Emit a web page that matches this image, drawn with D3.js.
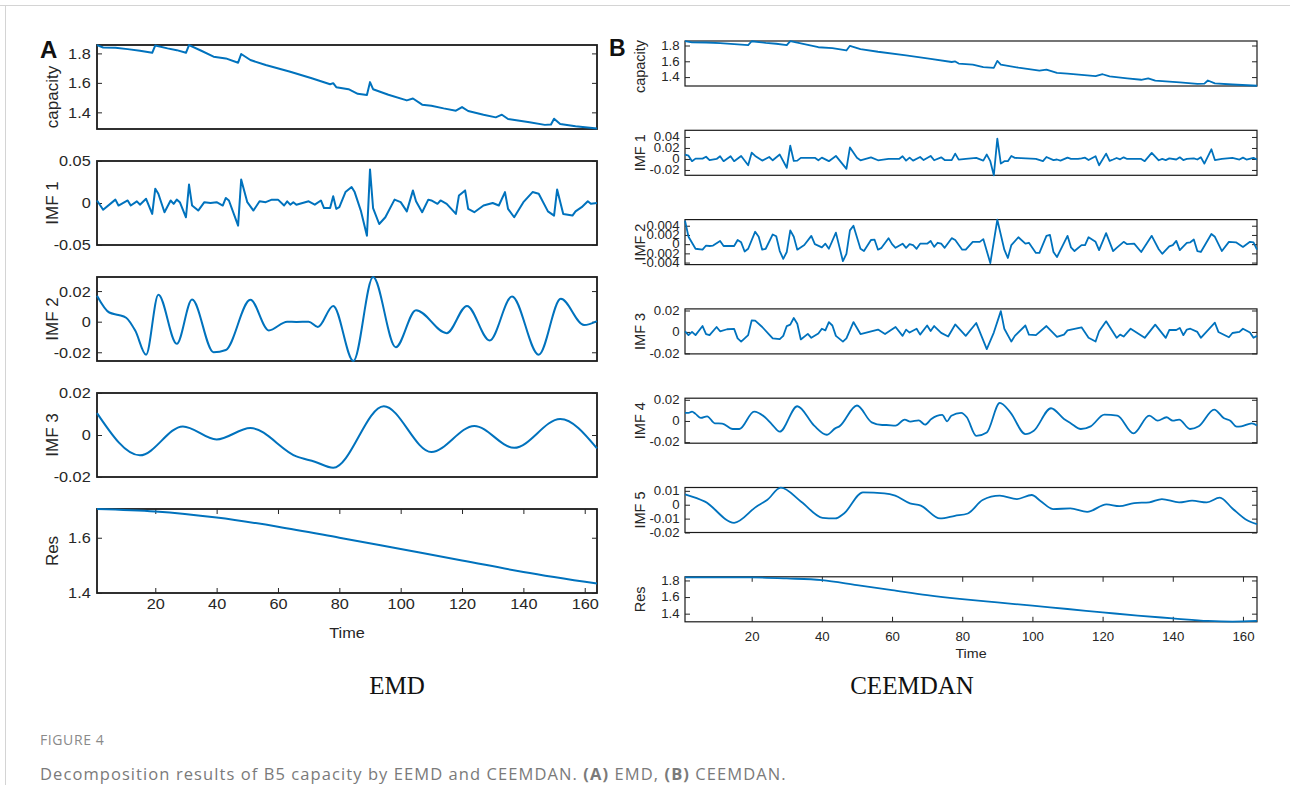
<!DOCTYPE html>
<html>
<head>
<meta charset="utf-8">
<script src="https://cdn.jsdelivr.net/npm/d3@7"></script>
<style>
body { margin: 0; background: #fff; }
</style>
</head>
<body>
<svg width="1290" height="785"></svg>
<script>
// time axis
const xLim = [1, 164]
const timeTicks = [20, 40, 60, 80, 100, 120, 140, 160]

// B5 capacity (same series in both panels)
const capT = [1,3,7,11,15,19,20,24,27,30,31,35,39,43,47,48,51,56,64,71,77,78,79,83,86,89,90,91,96,102,104,107,110,114,118,120,122,127,131,133,135,142,147,149,150,152,157,164]
const capV = [1.856,1.840,1.838,1.829,1.818,1.804,1.854,1.834,1.822,1.804,1.856,1.818,1.778,1.766,1.737,1.796,1.755,1.721,1.676,1.631,1.591,1.598,1.571,1.557,1.526,1.517,1.605,1.557,1.519,1.481,1.494,1.452,1.445,1.427,1.411,1.436,1.409,1.384,1.366,1.384,1.355,1.333,1.315,1.317,1.357,1.321,1.306,1.290]
const capTicks = [1.4, 1.6, 1.8]

// EMD
const emdImf1T = [1,3,7,8,11,12,14,15,17,19,20,21,23,25,26,27,28,30,31,32,34,36,38,40,42,43,44,47,48,50,52,54,56,58,60,62,63,64,65,66,70,72,74,75,77,78,79,80,82,84,85,87,89,90,91,93,95,98,100,102,104,105,107,109,110,112,113,115,118,119,121,122,124,127,130,132,134,135,137,140,143,145,148,150,151,153,156,157,159,161,162,164]
const emdImf1V = [0.003,-0.008,0.004,-0.003,0.003,-0.003,0.002,-0.002,0.005,-0.013,0.017,0.011,-0.011,0.003,-0.001,0.004,0.001,-0.017,0.022,-0.003,-0.009,0.001,0,0.001,-0.003,0.006,0.003,-0.027,0.028,0.001,-0.009,0.002,0.001,0.004,0.004,-0.003,0.002,-0.002,0.001,-0.002,0.002,-0.002,0.003,-0.006,-0.006,0.008,-0.007,-0.005,0.013,0.019,0.013,-0.009,-0.039,0.040,-0.006,-0.025,-0.017,0.004,0.001,-0.010,0.015,0.002,-0.011,0.004,0.003,-0.001,0.003,-0.001,-0.013,0.009,0.015,-0.007,-0.011,-0.003,0,-0.003,0.013,-0.007,-0.017,0.001,0.013,0.011,-0.010,-0.015,0.016,-0.013,-0.015,-0.010,-0.005,0.002,-0.001,0]
const emdImf1Ticks = [-0.05, 0, 0.05]

const emdImf2T = [1,5,8,10.5,13.5,17,21,27,32,39,43,51,57,63,66,70,73,78,84.6,91,98.4,105,115,121.6,129,136.3,145,152.2,159.8,164]
const emdImf2V = [0.017,0.006,0.0044,0.0026,-0.006,-0.0216,0.0176,-0.0145,0.0145,-0.020,-0.0185,0.0143,-0.0057,0,-0.0002,0,-0.0035,0.0103,-0.0257,0.0292,-0.0167,0.0075,-0.0075,0.0103,-0.0123,0.0165,-0.0216,0.015,-0.0022,0.0004]
const emdImf2Ticks = [-0.02, 0, 0.02]

const emdImf3T = [1,15,29,40,51,66,72,78,94.5,110,124,137,152,164]
const emdImf3V = [0.0104,-0.0097,0.0041,-0.0021,0.0033,-0.0102,-0.0127,-0.0156,0.0137,-0.0081,0.0043,-0.0061,0.0076,-0.0064]
const emdImf3Ticks = [-0.02, 0, 0.02]

const emdResT = [1,20,40,60,80,100,120,140,164]
const emdResV = [1.704,1.695,1.673,1.640,1.600,1.559,1.518,1.476,1.434]
const emdResTicks = [1.4, 1.6]

// CEEMDAN
const ceImf1T = [1,2,3,4,6,7,8,10,11,12,14,15,17,19,20,21,23,25,26,28,30,31,32,33,34,38,39,40,42,44,47,48,50,51,54,56,59,62,63,64,65,66,68,69,71,72,74,75,77,78,79,81,84,86,87,88,89,90,91,92,93,94,95,101,103,104,106,107,108,110,111,113,114,115,116,118,119,121,122,123,124,125,126,127,131,132,134,136,137,138,139,141,142,143,144,146,147,148,149,151,152,154,157,159,160,161,163,164]
const ceImf1V = [0.008,0.006,-0.004,0.0006,0.0006,0.004,-0.002,0,0.005,-0.004,0.005,-0.004,0.0055,-0.0115,0.0115,0.0055,-0.003,0.0036,-0.0024,0.008,-0.016,0.024,-0.0036,-0.003,0.002,0.002,-0.0024,0.0024,-0.004,0.0055,-0.018,0.021,0.002,-0.0024,0.003,-0.0024,0,0,0.005,-0.003,0.0024,-0.003,0.0036,-0.002,0.0055,-0.0024,0.003,-0.002,-0.002,0.0097,-0.0012,0,0.002,-0.003,0.008,-0.004,-0.0297,0.037,-0.0085,-0.004,-0.004,0.0055,0.002,0,-0.004,0.0036,-0.002,-0.001,-0.003,0.0024,0,0,0.001,0.0024,-0.002,0.005,-0.0115,0.0097,-0.0036,-0.001,0.0018,-0.0006,0.003,0,0,-0.004,0.011,-0.0024,0,-0.002,0.001,-0.001,0.003,-0.002,0,0.001,-0.001,0.003,-0.0085,0.0176,-0.002,0,0.002,-0.001,0.0024,-0.001,0.002,-0.001]
const ceImf1Ticks = [-0.02, 0, 0.02, 0.04]

const ceImf2T = [1,2,4,6,7,8,9,11,12,15,16,17,18,19,21,22,23,24,26,27,28,29,30,31,32,33,35,37,38,40,41,42,44,46,47,48,49,51,52,54,55,56,57,59,60,61,63,64,65,66,67,68,70,71,72,73,74,75,77,78,80,81,83,85,86,88,90,92,93,94,96,98,99,101,102,104,105,106,107,110,111,112,114,115,116,118,119,121,123,124,126,127,129,131,134,136,137,139,140,141,142,144,145,146,147,148,151,152,154,156,158,160,162,163,164]
const ceImf2V = [0.0051,0.0016,-0.001,-0.0012,-0.0003,-0.0004,-0.0003,0.0007,-0.0004,-0.0004,0.0009,0.0004,-0.0016,-0.001,0.0027,0.0016,-0.0012,-0.001,0.0021,0.0017,-0.0015,-0.0032,-0.0017,0.003,0.0016,-0.0012,-0.0002,0.0018,0,-0.0007,0.0001,-0.001,0.0025,-0.0037,-0.0021,0.003,0.004,-0.001,-0.0015,0.0009,0.001,-0.0012,-0.0008,0.0013,0,-0.0008,0.0001,-0.0008,0,-0.0002,-0.001,0.0001,0.0001,0.0007,-0.0006,0.0003,0.0001,-0.0008,0.0013,0.0009,-0.0012,-0.0012,0.0005,0.0005,0.0011,-0.0041,0.0053,-0.0012,-0.003,-0.0002,0.0015,0.0001,0.0003,-0.0019,-0.0019,0.0018,0.002,-0.0017,-0.0028,0.0018,-0.0007,-0.0015,-0.0002,-0.0002,0.0015,0.0005,-0.0013,0.0024,-0.0015,-0.0008,0.0005,0,0.0001,-0.0017,0.0018,-0.0011,-0.0021,-0.0005,-0.0002,0.0007,-0.0013,0.0003,0.0004,0.001,-0.0015,-0.0017,0.0022,0.0016,-0.0015,0.0005,0.0004,-0.0006,0.0005,0.0004,-0.0012]
const ceImf2Ticks = [-0.004, -0.002, 0, 0.002, 0.004]

const ceImf3T = [1,2,3,4,6,7,8,10,11,13,15,16,17,19,20,21,23,25,26,28,29,30,31,32,33,34,36,37,39,40,41,42,43,44,46,47,49,51,56,58,61,63,64,65,67,68,70,71,72,74,76,78,81,84,87,89,91,92,94,95,98,99,101,104,107,109,110,111,114,116,118,119,121,124,125,126,128,132,135,138,139,141,142,143,144,145,147,148,152,153,156,157,159,160,162,163,164]
const ceImf3V = [0.0006,-0.003,0,-0.003,0.0055,-0.002,-0.003,0.0046,0.0006,0.0025,0.0028,-0.006,-0.009,-0.003,0.0108,0.0105,0.0046,-0.0025,-0.006,-0.0068,-0.0037,0.0055,0.0068,0.013,0.0077,-0.007,-0.0018,-0.0055,-0.0015,0.003,0.0015,0.0092,0.006,-0.0037,-0.009,-0.006,0.0092,-0.002,0.0022,-0.002,0.0046,-0.0037,0.0022,-0.0006,0.003,-0.0025,0.006,0.0009,0.0055,-0.0009,-0.0043,0.007,-0.0037,0.0083,-0.016,-0.0006,0.0194,0.003,-0.009,-0.0037,0.006,-0.0025,-0.003,0.0055,-0.0046,-0.0025,0.0015,0.0022,0.0043,-0.0055,-0.009,0.0006,0.0099,-0.0055,-0.0025,-0.0043,0.003,-0.0055,0.0068,-0.0055,0.0018,0.0018,0.0037,-0.003,0.0022,0.003,0,-0.0055,0.0086,0,-0.005,-0.001,0,0.003,-0.0006,-0.0055,-0.0037]
const ceImf3Ticks = [-0.02, 0, 0.02]

const ceImf4T = [1,2,3,4,5.5,7.3,9.5,11.6,14.6,16.5,20.7,23.8,25.7,28,33,37.8,41.4,43.8,45,50,54.2,57.2,58.4,61,63.6,65.2,67.6,69.4,71.2,74.3,75.7,76.9,79.7,81.3,84,87,90.7,93.7,98,100.4,105.3,109,110.8,113.8,116.6,120.5,124.2,128.8,133.3,135.7,138.2,140,141.8,144.9,147.4,151.8,154.6,156.4,158.2,159.5,162.5,164]
const ceImf4V = [0.0076,0.0076,0.0089,0.0067,0.0029,0.0044,-0.0022,-0.0025,-0.0076,-0.0076,0.0089,0.0035,-0.0029,-0.0101,0.0139,-0.0044,-0.013,-0.007,-0.0051,0.0146,-0.0013,-0.0038,-0.0038,-0.0044,0.0013,-0.0006,0.0006,-0.0035,0.0019,0.0057,-0.0003,0.005,0.0076,0.0035,-0.014,-0.0108,0.0171,0.0082,-0.0124,-0.0092,0.012,0.0019,-0.0019,-0.0076,-0.0051,0.006,0.0051,-0.0117,0.0051,0.0003,0.0035,0.0003,0.0013,-0.0076,-0.005,0.0108,0.0025,0.0003,-0.0054,-0.0051,-0.0022,-0.0044]
const ceImf4Ticks = [-0.02, 0, 0.02]

const ceImf5T = [1,6.7,15,21.3,24.4,28.3,34.1,40.2,43.8,46.3,51.7,57.8,60.9,65.1,68.2,73.7,77.9,81.6,85.8,90.7,95.6,99.8,102.3,105.9,110.8,115.6,121.1,124.8,129,133.3,136.9,141.8,145.5,149.7,153.4,157,160.7,164]
const ceImf5V = [0.0075,0.0022,-0.013,-0.0014,0.0034,0.0123,0.0022,-0.0094,-0.0099,-0.0063,0.0089,0.0082,0.0065,0.001,-0.0007,-0.0099,-0.008,-0.0063,0.0034,0.0065,0.0041,0.007,0.0027,-0.0031,-0.0027,-0.0051,0.0002,-0.001,0.0012,0.0017,0.0041,0.0017,0.0029,0.0017,0.0051,-0.0027,-0.0104,-0.014]
const ceImf5Ticks = [-0.02, -0.01, 0, 0.01]

const ceResT = [1,12,20,30,40,50,60,70,80,90,100,110,120,130,140,150,157,164]
const ceResV = [1.836,1.837,1.836,1.824,1.804,1.744,1.684,1.624,1.576,1.536,1.496,1.456,1.416,1.376,1.344,1.312,1.304,1.312]
const ceResTicks = [1.4, 1.6, 1.8]

const blue = '#0072BD'
const ink = '#262626'
const svg = d3.select('svg')

const emdPanels = [
    { name: 'capacity', t: capT, v: capV, lim: [1.287, 1.857], ticks: capTicks, curve: d3.curveLinear, labelDy: 10 },
    { name: 'IMF 1', t: emdImf1T, v: emdImf1V, lim: [-0.05, 0.05], ticks: emdImf1Ticks, curve: d3.curveLinear },
    { name: 'IMF 2', t: emdImf2T, v: emdImf2V, lim: [-0.0257, 0.0292], ticks: emdImf2Ticks, curve: d3.curveMonotoneX },
    { name: 'IMF 3', t: emdImf3T, v: emdImf3V, lim: [-0.02, 0.02], ticks: emdImf3Ticks, curve: d3.curveMonotoneX },
    { name: 'Res', t: emdResT, v: emdResV, lim: [1.4, 1.704], ticks: emdResTicks, curve: d3.curveMonotoneX }
]
const cePanels = [
    { name: 'capacity', t: capT, v: capV, lim: [1.287, 1.857], ticks: capTicks, curve: d3.curveLinear, labelDy: 3 },
    { name: 'IMF 1', t: ceImf1T, v: ceImf1V, lim: [-0.0297, 0.0521], ticks: ceImf1Ticks, curve: d3.curveLinear },
    { name: 'IMF 2', t: ceImf2T, v: ceImf2V, lim: [-0.00444, 0.00533], ticks: ceImf2Ticks, curve: d3.curveLinear },
    { name: 'IMF 3', t: ceImf3T, v: ceImf3V, lim: [-0.0205, 0.0215], ticks: ceImf3Ticks, curve: d3.curveLinear },
    { name: 'IMF 4', t: ceImf4T, v: ceImf4V, lim: [-0.021, 0.0215], ticks: ceImf4Ticks, curve: d3.curveMonotoneX },
    { name: 'IMF 5', t: ceImf5T, v: ceImf5V, lim: [-0.02, 0.0124], ticks: ceImf5Ticks, curve: d3.curveMonotoneX },
    { name: 'Res', t: ceResT, v: ceResV, lim: [1.302, 1.844], ticks: ceResTicks, curve: d3.curveMonotoneX }
]

const leftGeo = { x0: 97, x1: 597, top: 45, step: 116, h: 84, tick: 5, lw: 2, boxW: 1.8, font: 15.5, labFont: 17, labX: 52, pad: 6, xpad: 5, timeY: 637.5, timeFont: 15.5, sx: 1.05 }
const rightGeo = { x0: 685, x1: 1257, top: 41, step: 89.3, h: 45, tick: 5, lw: 1.8, boxW: 1.2, font: 12, labFont: 14.5, labX: 640, pad: 5, xpad: 10.5, timeY: 658, timeFont: 13, sx: 1.1 }

function styleAxis(sel, geo) {
    sel.select('.domain').remove()
    sel.attr('font-family', null).attr('font-size', null)
    sel.selectAll('line').attr('stroke', ink).attr('stroke-width', 1)
    sel.selectAll('text')
        .attr('fill', ink)
        .attr('font-family', '"Liberation Sans", Arial, sans-serif')
        .attr('font-size', geo.font)
        .attr('transform', `scale(${geo.sx},1)`)
}

function drawPanel(cfg, i, geo, last) {
    const y0 = geo.top + i * geo.step
    const y1 = y0 + geo.h
    const x = d3.scaleLinear().domain(xLim).range([geo.x0, geo.x1])
    const y = d3.scaleLinear().domain(cfg.lim).range([y1, y0])
    const g = svg.append('g')

    g.append('rect')
        .attr('x', geo.x0).attr('y', y0)
        .attr('width', geo.x1 - geo.x0).attr('height', geo.h)
        .attr('fill', 'none').attr('stroke', '#1a1a1a').attr('stroke-width', geo.boxW)

    g.append('g').attr('transform', `translate(${geo.x0},0)`)
        .call(d3.axisLeft(y).tickValues(cfg.ticks).tickFormat(d => String(d)).tickSize(-geo.tick).tickPadding(geo.pad))
        .call(s => styleAxis(s, geo))
    g.append('g').attr('transform', `translate(${geo.x1},0)`)
        .call(d3.axisRight(y).tickValues(cfg.ticks).tickFormat('').tickSize(-geo.tick))
        .call(s => styleAxis(s, geo))

    if (last) {
        g.append('g').attr('transform', `translate(0,${y1})`)
            .call(d3.axisBottom(x).tickValues(timeTicks).tickSize(-geo.tick).tickPadding(geo.xpad))
            .call(s => styleAxis(s, geo))
        g.append('g').attr('transform', `translate(0,${y0})`)
            .call(d3.axisTop(x).tickValues(timeTicks).tickFormat('').tickSize(-geo.tick))
            .call(s => styleAxis(s, geo))
        g.append('text')
            .attr('transform', `translate(${(geo.x0 + geo.x1) / 2},${geo.timeY}) scale(${geo.sx},1)`)
            .attr('text-anchor', 'middle')
            .attr('font-family', '"Liberation Sans", Arial, sans-serif')
            .attr('font-size', geo.timeFont)
            .attr('fill', ink)
            .text('Time')
    }

    const line = d3.line()
        .x((d, j) => x(cfg.t[j]))
        .y(d => y(d))
        .curve(cfg.curve)
    g.append('path')
        .datum(cfg.v)
        .attr('d', line)
        .attr('fill', 'none')
        .attr('stroke', blue)
        .attr('stroke-width', geo.lw)
        .attr('stroke-linejoin', 'round')

    g.append('text')
        .attr('transform', `translate(${geo.labX},${(y0 + y1) / 2 + (cfg.labelDy || 0)}) rotate(-90)`)
        .attr('text-anchor', 'middle')
        .attr('dy', '0.35em')
        .attr('font-family', '"Liberation Sans", Arial, sans-serif')
        .attr('font-size', geo.labFont)
        .attr('fill', ink)
        .text(cfg.name)
}

emdPanels.forEach((p, i) => drawPanel(p, i, leftGeo, i === emdPanels.length - 1))
cePanels.forEach((p, i) => drawPanel(p, i, rightGeo, i === cePanels.length - 1))

// page frame
svg.append('line').attr('x1', 0).attr('x2', 1290).attr('y1', 5.5).attr('y2', 5.5).attr('stroke', '#d4d4d4')
svg.append('line').attr('x1', 5.5).attr('x2', 5.5).attr('y1', 5).attr('y2', 785).attr('stroke', '#d4d4d4')

// panel letters
svg.append('text').attr('x', 40).attr('y', 58).attr('font-family', '"Liberation Sans", Arial, sans-serif')
    .attr('font-weight', 'bold').attr('font-size', 24).attr('fill', '#111').text('A')
svg.append('text').attr('x', 609).attr('y', 56).attr('font-family', '"Liberation Sans", Arial, sans-serif')
    .attr('font-weight', 'bold').attr('font-size', 23).attr('fill', '#111').text('B')

// method titles
svg.append('text').attr('x', 397).attr('y', 694).attr('text-anchor', 'middle')
    .attr('font-family', '"Liberation Serif", "Times New Roman", serif').attr('font-size', 25).attr('fill', '#111').text('EMD')
svg.append('text').attr('x', 912).attr('y', 694).attr('text-anchor', 'middle')
    .attr('font-family', '"Liberation Serif", "Times New Roman", serif').attr('font-size', 25).attr('fill', '#111').text('CEEMDAN')

// caption
svg.append('text').attr('x', 40).attr('y', 745)
    .attr('font-family', '"Open Sans", "Noto Sans", sans-serif').attr('font-size', 14)
    .attr('letter-spacing', 0.6).attr('fill', '#8a8a8a').text('FIGURE 4')
const cap = svg.append('text').attr('x', 40).attr('y', 779.5)
    .attr('font-family', '"Open Sans", "Noto Sans", sans-serif').attr('font-size', 16.5)
    .attr('letter-spacing', 1.08).attr('fill', '#7a7a7a')
cap.append('tspan').text('Decomposition results of B5 capacity by EEMD and CEEMDAN. ')
cap.append('tspan').attr('font-weight', 'bold').text('(A)')
cap.append('tspan').text(' EMD, ')
cap.append('tspan').attr('font-weight', 'bold').text('(B)')
cap.append('tspan').text(' CEEMDAN.')
</script>
</body>
</html>
